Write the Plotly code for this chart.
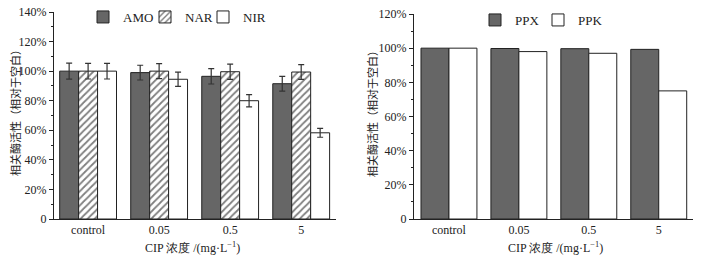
import plotly.graph_objects as go

categories = ["control", "0.05", "0.5", "5"]

amo = [100, 99, 96.5, 91.5]
amo_err = [5.4, 5.0, 5.2, 5.0]
nar = [100, 100, 99.6, 99.4]
nar_err = [5.3, 5.1, 5.1, 5.0]
nir = [100, 94.5, 80, 58.3]
nir_err = [5.3, 4.8, 4.1, 3.0]

ppx = [100, 99.8, 99.7, 99.3]
ppk = [100, 98, 97, 75]

left_ticks = [0, 20, 40, 60, 80, 100, 120, 140]
left_ticktext = ["0", "20%", "40%", "60%", "80%", "100%", "120%", "140%"]
right_ticks = [0, 20, 40, 60, 80, 100, 120]
right_ticktext = ["0", "20%", "40%", "60%", "80%", "100%", "120%"]

ytitle = "相关酶活性（相对于空白）"
xtitle = "CIP 浓度 /(mg·L<sup>−1</sup>)"

FONT = "Liberation Serif"
DARK = "#666666"
LINE = "#222222"
ERR = "#333333"

fig = go.Figure()

def err(a):
    return dict(type="data", array=a, color=ERR, thickness=1.2, width=3)

fig.add_trace(go.Bar(x=categories, y=amo, name="AMO", error_y=err(amo_err),
                     marker=dict(color=DARK, line=dict(color=LINE, width=1)),
                     xaxis="x", yaxis="y", legend="legend", showlegend=True))
fig.add_trace(go.Bar(x=categories, y=nar, name="NAR", error_y=err(nar_err),
                     marker=dict(color="white", line=dict(color=LINE, width=1),
                                 pattern=dict(shape="/", fgcolor="#000000", bgcolor="white",
                                              size=5, solidity=0.35)),
                     xaxis="x", yaxis="y", legend="legend2", showlegend=True))
fig.add_trace(go.Bar(x=categories, y=nir, name="NIR", error_y=err(nir_err),
                     marker=dict(color="white", line=dict(color=LINE, width=1)),
                     xaxis="x", yaxis="y", legend="legend3", showlegend=True))

fig.add_trace(go.Bar(x=categories, y=ppx, name="PPX",
                     marker=dict(color=DARK, line=dict(color=LINE, width=1)),
                     xaxis="x2", yaxis="y2", legend="legend4", showlegend=True))
fig.add_trace(go.Bar(x=categories, y=ppk, name="PPK",
                     marker=dict(color="white", line=dict(color=LINE, width=1)),
                     xaxis="x2", yaxis="y2", legend="legend5", showlegend=True))

axis_font = dict(family=FONT, size=12, color="#222222")

xcommon = dict(type="category", showline=True, linecolor=LINE, linewidth=1,
               ticks="", tickfont=axis_font, showgrid=False, zeroline=False,
               automargin=False, fixedrange=True)
ycommon = dict(showline=True, linecolor=LINE, linewidth=1, ticks="outside",
               ticklen=4, tickcolor=LINE, tickfont=axis_font, showgrid=False,
               zeroline=False, automargin=False,
               minor=dict(ticks="outside", ticklen=2, dtick=10, tickcolor=LINE))

def leg(xpx, ypx):
    return dict(orientation="h", x=xpx/701, y=(256-ypx)/256, xanchor="left",
                yanchor="middle", font=dict(family=FONT, size=13, color="#222222"),
                bgcolor="rgba(0,0,0,0)", itemwidth=30, visible=True)

fig.update_layout(
    width=701, height=256,
    showlegend=True,
    margin=dict(l=0, r=0, t=0, b=0),
    paper_bgcolor="white", plot_bgcolor="white",
    barmode="group", bargap=0.2, bargroupgap=0,
    font=dict(family=FONT, size=12, color="#222222"),
    xaxis=dict(domain=[54/701, 336/701], range=[-0.48, 3.49], anchor="y", **xcommon),
    yaxis=dict(domain=[37/256, 244/256], range=[0, 140], anchor="x",
               tickvals=left_ticks, ticktext=left_ticktext, **ycommon),
    xaxis2=dict(domain=[414/701, 693/701], range=[-0.5, 3.49], anchor="y2", **xcommon),
    yaxis2=dict(domain=[37/256, 242/256], range=[0, 120], anchor="x2",
                tickvals=right_ticks, ticktext=right_ticktext, **ycommon),
    legend=leg(83, 17),
    legend2=leg(145, 17),
    legend3=leg(203, 17),
    legend4=leg(475, 20),
    legend5=leg(538, 20),
    annotations=[
        dict(text=ytitle, x=15/701, y=(256-110)/256, xref="paper", yref="paper",
             xanchor="center", yanchor="middle",
             textangle=-90, showarrow=False,
             font=dict(family="Noto Sans CJK SC", size=11, color="#222222")),
        dict(text=ytitle, x=372/701, y=(256-111)/256, xref="paper", yref="paper",
             xanchor="center", yanchor="middle",
             textangle=-90, showarrow=False,
             font=dict(family="Noto Sans CJK SC", size=11, color="#222222")),
        dict(text=xtitle, x=192/701, y=(256-247)/256, xref="paper", yref="paper",
             xanchor="center", yanchor="middle",
             showarrow=False, font=dict(family=FONT, size=12, color="#222222")),
        dict(text=xtitle, x=555/701, y=(256-247)/256, xref="paper", yref="paper",
             xanchor="center", yanchor="middle",
             showarrow=False, font=dict(family=FONT, size=12, color="#222222")),
    ],
)

fig.write_html("out.html", config={"displayModeBar": False},
               post_script="document.body.style.margin='0';document.body.style.overflow='hidden';")
